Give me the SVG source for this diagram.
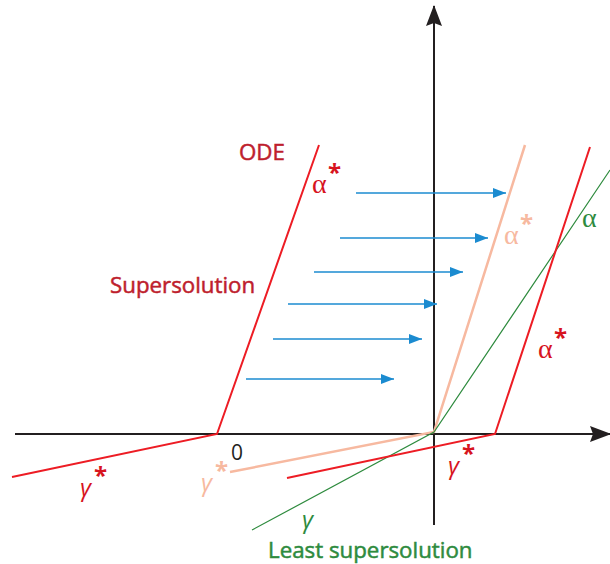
<svg xmlns="http://www.w3.org/2000/svg" width="610" height="564" viewBox="0 0 610 564">
<style>
.ax{stroke:#231f20;stroke-width:2;fill:none}
.red{stroke:#ed1c24;stroke-width:2;fill:none}
.peach{stroke:#f7b9a0;stroke-width:2.5;fill:none}
.green{stroke:#2e8b3e;stroke-width:1.2;fill:none}
.blue{stroke:#1b8bd0;stroke-width:1.6;fill:none}
.t{font-family:"Open Sans","Noto Sans",sans-serif;font-size:22.3px;stroke-width:0.5}
.z{font-family:"Open Sans","Noto Sans",sans-serif;font-size:21px}
.g{font-family:"Liberation Serif",serif;font-size:28px}
.gi{font-family:"Open Sans",sans-serif;font-size:24px;font-style:italic}
.s{font-family:"Open Sans",sans-serif;font-size:24px;font-weight:bold}
</style>
<defs>
<marker id="ah" markerWidth="14" markerHeight="12" refX="13" refY="6" orient="auto" markerUnits="userSpaceOnUse"><path d="M0,1 L13,6 L0,11 Z" fill="#1b8bd0"/></marker>
<marker id="ak" markerWidth="22" markerHeight="18" refX="20" refY="9" orient="auto" markerUnits="userSpaceOnUse"><path d="M0,1 L21,9 L0,17 L3,9 Z" fill="#231f20"/></marker>
</defs>
<g id="axes">
<line class="ax" x1="15" y1="434" x2="610" y2="434" marker-end="url(#ak)"/>
<line class="ax" x1="434" y1="525" x2="434" y2="6" marker-end="url(#ak)"/>
</g>
<g id="connectors">
<line class="blue" x1="356" y1="193" x2="506" y2="193" marker-end="url(#ah)"/>
<line class="blue" x1="340" y1="238" x2="488" y2="238" marker-end="url(#ah)"/>
<line class="blue" x1="314" y1="272" x2="463" y2="272" marker-end="url(#ah)"/>
<line class="blue" x1="288" y1="304" x2="437" y2="304" marker-end="url(#ah)"/>
<line class="blue" x1="273" y1="339" x2="422" y2="339" marker-end="url(#ah)"/>
<line class="blue" x1="246" y1="379" x2="394" y2="379" marker-end="url(#ah)"/>
</g>
<g id="ode">
<polyline class="red" points="12,477 217,434 319,145"/>
</g>
<g id="shifted">
<polyline class="peach" points="230,472 434,432 525,145"/>
</g>
<g id="least">
<polyline class="green" points="252,530 434,432 610,170"/>
</g>
<g id="super-right">
<polyline class="red" points="287,478 495,434 590,147"/>
</g>
<g id="labels">
<text class="t" x="239" y="160" fill="#be1e2d" stroke="#be1e2d">ODE</text>
<text class="g" x="312" y="193" fill="#d7141e">α</text><text class="s" x="328" y="181" fill="#d7141e">*</text>
<text class="t" x="110" y="293" fill="#be1e2d" stroke="#be1e2d">Supersolution</text>
<text class="g" x="504" y="244" fill="#f7b9a0">α</text><text class="s" x="520" y="232" fill="#f7b9a0">*</text>
<text class="g" x="582" y="227" fill="#2e8b3e">α</text>
<text class="g" x="538" y="358" fill="#d7141e">α</text><text class="s" x="554" y="346" fill="#d7141e">*</text>
<text class="gi" x="80" y="496" fill="#d7141e">γ</text><text class="s" x="94" y="484" fill="#d7141e">*</text>
<text class="z" x="231" y="460" fill="#231f20">0</text>
<text class="gi" x="201" y="491" fill="#f7b9a0">γ</text><text class="s" x="215" y="479" fill="#f7b9a0">*</text>
<text class="gi" x="448" y="474" fill="#d7141e">γ</text><text class="s" x="462" y="462" fill="#d7141e">*</text>
<text class="gi" x="302" y="528" fill="#2e8b3e" font-size="19">γ</text>
<text class="t" x="268" y="558" fill="#2e8b3e" stroke="#2e8b3e">Least supersolution</text>
</g>
</svg>
